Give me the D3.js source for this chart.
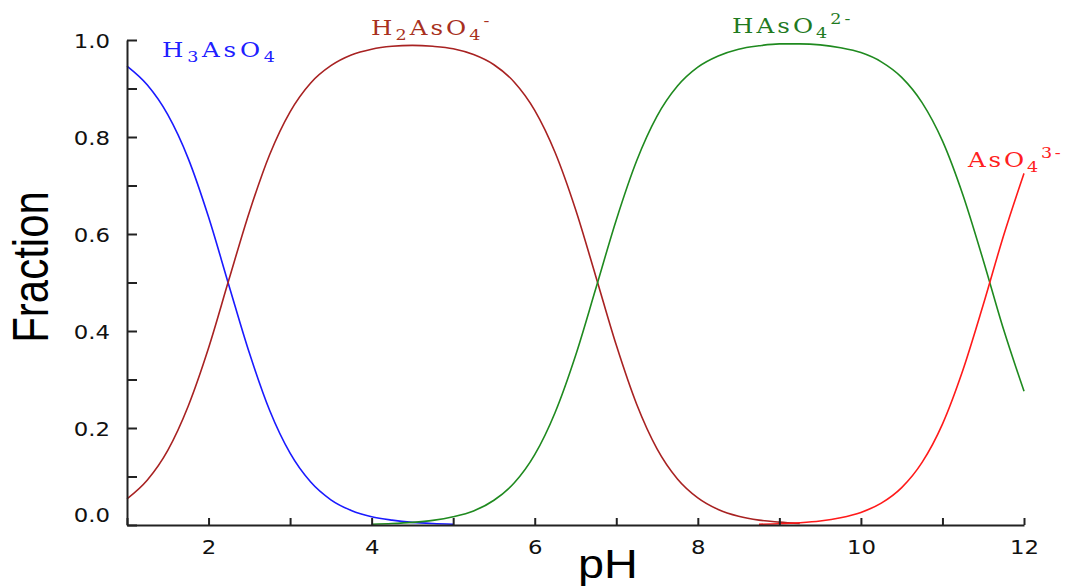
<!DOCTYPE html>
<html>
<head>
<meta charset="utf-8">
<script src="https://cdn.jsdelivr.net/npm/d3@7"></script>
<style>
  html, body { margin: 0; padding: 0; background: #ffffff; }
  svg { display: block; }
</style>
</head>
<body>
<script>
// Arsenic acid speciation: fraction of each species versus pH (0.25 pH steps, 1 to 12)
const pH = d3.range(45).map(i => 1 + i * 0.25);

// H3AsO4 (pH 1 – 5)
const h3aso4 = [0.946, 0.907, 0.846, 0.756, 0.635, 0.494, 0.355, 0.236, 0.148, 0.089,
  0.052, 0.030, 0.017, 0.010, 0.0055, 0.0031, 0.0017];

// H2AsO4- (pH 1 – 9.25)
const h2aso4 = [0.054, 0.093, 0.154, 0.245, 0.365, 0.506, 0.645, 0.764, 0.852, 0.911,
  0.947, 0.969, 0.981, 0.987, 0.989, 0.987, 0.982, 0.970, 0.949, 0.913,
  0.855, 0.768, 0.651, 0.512, 0.371, 0.249, 0.157, 0.095, 0.056, 0.032,
  0.018, 0.010, 0.006, 0.003];

// HAsO4 2- (pH 4 – 12)
const haso4Start = 12;
const haso4 = [0.0017, 0.0030, 0.0054, 0.0095, 0.017, 0.029, 0.051, 0.087, 0.145, 0.232,
  0.349, 0.488, 0.629, 0.751, 0.843, 0.905, 0.944, 0.967, 0.981, 0.988,
  0.992, 0.992, 0.990, 0.984, 0.974, 0.955, 0.923, 0.871, 0.792, 0.681,
  0.546, 0.403, 0.276];

// AsO4 3- (pH 8.75 – 12)
const aso4Start = 31;
const aso4 = [0.0015, 0.0026, 0.0047, 0.0083, 0.015, 0.026, 0.045, 0.077, 0.129, 0.208,
  0.319, 0.454, 0.597, 0.725];

const xTicks = d3.range(1, 13);
const xTickLabels = ["", "2", "", "4", "", "6", "", "8", "", "10", "", "12"];
const yTicks = d3.range(0, 11).map(i => i / 10);
const yTickLabels = ["0.0", "", "0.2", "", "0.4", "", "0.6", "", "0.8", "", "1.0"];

// Species labels: [text, position kind]
const lblH3 = [["H", "n"], ["3", "sub"], ["AsO", "n"], ["4", "sub"]];
const lblH2 = [["H", "n"], ["2", "sub"], ["AsO", "n"], ["4", "sub"], ["-", "sup"]];
const lblH1 = [["HAsO", "n"], ["4", "sub"], ["2-", "sup"]];
const lblH0 = [["AsO", "n"], ["4", "sub"], ["3-", "sup"]];

const W = 1075, H = 586;
const STRETCH = 1.17;

const svg = d3.select("body").append("svg")
  .attr("width", W).attr("height", H);

const x = d3.scaleLinear().domain([1, 12]).range([127, 1024]);
const y = d3.scaleLinear().domain([0, 1]).range([525, 40]);

function full(values, start) {
  const arr = new Array(pH.length).fill(null);
  values.forEach((v, i) => { arr[start + i] = v; });
  return arr;
}

const series = [
  { values: full(h3aso4, 0), color: "#1a1aff" },
  { values: full(h2aso4, 0), color: "#a82222" },
  { values: full(haso4, haso4Start), color: "#1f8a1f" },
  { values: full(aso4, aso4Start), color: "#ff1a1a" }
];

const line = d3.line()
  .defined(d => d[1] !== null)
  .x(d => x(d[0]))
  .y(d => y(d[1]))
  .curve(d3.curveMonotoneX);

svg.append("g").selectAll("path")
  .data(series)
  .join("path")
  .attr("d", s => line(pH.map((p, i) => [p, s.values[i]])))
  .attr("fill", "none")
  .attr("stroke", s => s.color)
  .attr("stroke-width", 1.6);

// Axes
const tickFont = "'DejaVu Sans', Verdana, sans-serif";

const xAxis = d3.axisBottom(x)
  .tickValues(xTicks)
  .tickSizeInner(-7)
  .tickSizeOuter(0)
  .tickPadding(15)
  .tickFormat((d, i) => xTickLabels[i]);

const gx = svg.append("g").attr("transform", `translate(0,${y(0)})`).call(xAxis);

const yAxis = d3.axisLeft(y)
  .tickValues(yTicks)
  .tickSizeInner(-10)
  .tickSizeOuter(0)
  .tickPadding(17)
  .tickFormat((d, i) => yTickLabels[i]);

const gy = svg.append("g").attr("transform", `translate(${x(1)},0)`).call(yAxis);

[gx, gy].forEach(g => {
  g.select(".domain").attr("stroke", "#222").attr("stroke-width", 2);
  g.selectAll(".tick line").attr("stroke", "#222").attr("stroke-width", 2);
  g.selectAll(".tick text")
    .attr("font-family", tickFont)
    .attr("font-size", 19.5)
    .attr("fill", "#111");
});

// Horizontally widened tick labels
gx.selectAll(".tick text")
  .attr("transform", function () {
    const yy = +d3.select(this).attr("y");
    d3.select(this).attr("y", 0);
    return `translate(0,${yy}) scale(${STRETCH},1)`;
  });
gy.selectAll(".tick text")
  .attr("transform", function (d) {
    const xx = +d3.select(this).attr("x");
    d3.select(this).attr("x", 0);
    const lift = d === 0 ? -10 : 1;
    return `translate(${xx},${lift}) scale(${STRETCH},1)`;
  });

// Axis titles
svg.append("text")
  .attr("transform", `translate(48,267) scale(${STRETCH},1) rotate(-90)`)
  .attr("text-anchor", "middle")
  .attr("font-family", "'Liberation Sans', Arial, sans-serif")
  .attr("font-size", 42)
  .attr("fill", "#000")
  .text("Fraction");

svg.append("text")
  .attr("transform", `translate(608,578) scale(${STRETCH},1)`)
  .attr("text-anchor", "middle")
  .attr("font-family", "'Liberation Sans', Arial, sans-serif")
  .attr("font-size", 40)
  .attr("fill", "#000")
  .text("pH");

// Species labels
function speciesLabel(parts, px, py, color, spacing) {
  const t = svg.append("text")
    .attr("transform", `translate(${px},${py}) scale(${STRETCH},1)`)
    .attr("font-family", "'DejaVu Serif', 'Liberation Serif', serif")
    .attr("font-size", 21)
    .attr("letter-spacing", spacing)
    .attr("fill", color);
  let shift = 0;
  parts.forEach(([txt, kind]) => {
    const target = kind === "sub" ? 5 : kind === "sup" ? -9 : 0;
    t.append("tspan")
      .attr("dy", target - shift)
      .attr("font-size", kind === "n" ? 21 : 15)
      .text(txt);
    shift = target;
  });
}

speciesLabel(lblH3, 162, 57, "#2020ff", 3.2);
speciesLabel(lblH2, 371, 35, "#a83020", 2.6);
speciesLabel(lblH1, 732, 33, "#1f7a1f", 2.6);
speciesLabel(lblH0, 968, 167, "#ff2020", 2.4);
</script>
</body>
</html>
